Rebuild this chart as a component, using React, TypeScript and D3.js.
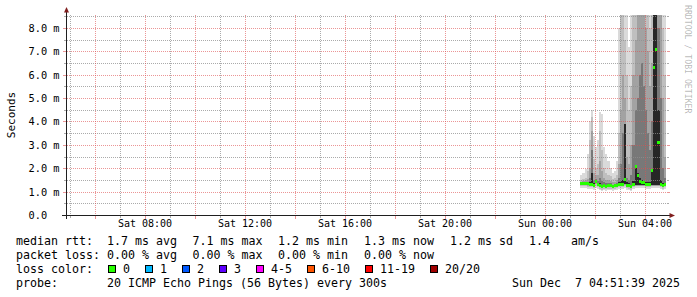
import React from "react";
import * as d3 from "d3";

const W = 697;
const H = 297;
const X0 = 66.5;
const X1 = 666.5;
const Y0 = 215;
const Y1 = 15;
const Y_MAX = 8.556;

const timeStart = new Date(2025, 11, 6, 4, 51, 39);
const timeEnd = new Date(2025, 11, 7, 4, 51, 39);
const firstStep = new Date(2025, 11, 7, 1, 25, 0);
const STEP_MIN = 5;

// median rtt per 5-minute step (ms)
const median = [1.35,1.35,1.35,1.33,1.30,1.30,1.28,1.42,1.30,1.25,1.20,1.25,1.22,1.25,1.25,1.22,1.25,1.28,1.30,1.30,1.32,1.50,1.28,1.25,1.20,1.30,2.07,1.67,1.45,1.38,1.38,1.32,1.32,1.30,1.90,6.30,7.10,3.10,1.30,1.25,1.30];

// smoke bands: upper edges (outer -> inner)
const hi1 = [1.70,1.80,1.95,2.60,4.00,4.50,3.40,2.90,3.20,4.40,4.30,2.90,2.60,2.30,2.00,1.80,1.90,2.30,8.00,8.60,8.60,8.60,8.60,7.20,8.60,8.60,8.60,8.60,8.60,8.60,8.60,8.60,8.60,8.60,8.60,8.60,8.60,8.60,8.60,8.60,8.60];
const hi2 = [1.50,1.55,1.60,1.90,3.20,4.20,2.40,2.00,2.20,3.60,2.80,2.00,1.80,1.70,1.65,1.55,1.60,1.70,3.50,8.60,8.60,7.50,6.00,4.50,5.50,8.60,8.60,8.60,8.60,8.60,8.60,8.60,8.60,8.00,8.60,8.60,8.60,8.60,8.60,8.00,6.00];
const hi3 = [1.42,1.45,1.48,1.55,2.00,3.60,1.80,1.70,1.70,2.30,1.90,1.60,1.50,1.50,1.45,1.40,1.42,1.50,2.20,4.50,6.00,5.00,2.50,2.20,3.00,6.00,7.50,8.60,8.60,8.60,8.60,8.00,7.00,5.50,6.50,8.60,8.60,8.60,8.60,5.00,2.50];
const hi4 = [1.38,1.40,1.40,1.42,1.60,2.80,1.50,1.55,1.45,1.60,1.45,1.40,1.35,1.38,1.35,1.30,1.33,1.38,1.60,2.20,3.50,3.90,1.60,1.50,1.70,3.00,4.50,5.00,6.00,6.50,5.50,4.50,3.50,2.80,4.00,8.60,8.60,8.00,5.00,2.00,1.60];
const hi5 = [1.37,1.37,1.37,1.36,1.40,1.80,1.35,1.48,1.35,1.35,1.28,1.30,1.27,1.30,1.30,1.26,1.28,1.31,1.40,1.45,1.50,3.90,1.40,1.35,1.30,1.45,2.10,1.80,1.60,1.50,1.45,1.40,1.40,1.40,1.95,8.60,8.60,4.50,1.50,1.35,1.35];
// smoke bands: lower edges (outer -> inner)
const lo1 = [1.15,1.15,1.15,1.13,1.10,1.10,1.08,1.15,1.10,1.06,1.02,1.06,1.04,1.06,1.06,1.04,1.06,1.08,1.10,1.10,1.12,1.15,1.08,1.06,1.02,1.10,1.15,1.15,1.15,1.15,1.15,1.12,1.12,1.10,1.15,1.15,1.15,1.15,1.10,1.06,1.10];
const lo2 = [1.23,1.23,1.23,1.21,1.18,1.18,1.16,1.25,1.18,1.13,1.09,1.13,1.11,1.13,1.13,1.11,1.13,1.16,1.18,1.18,1.20,1.24,1.16,1.13,1.09,1.18,1.22,1.22,1.22,1.22,1.22,1.20,1.20,1.18,1.22,1.22,1.22,1.22,1.18,1.13,1.18];
const lo3 = [1.28,1.28,1.28,1.26,1.23,1.23,1.21,1.32,1.23,1.18,1.14,1.18,1.16,1.18,1.18,1.16,1.18,1.21,1.23,1.23,1.25,1.30,1.21,1.18,1.14,1.23,1.26,1.26,1.26,1.26,1.26,1.25,1.25,1.23,1.26,1.26,1.26,1.26,1.23,1.18,1.23];
const lo4 = [1.31,1.31,1.31,1.29,1.26,1.26,1.24,1.37,1.26,1.21,1.17,1.21,1.19,1.21,1.21,1.19,1.21,1.24,1.26,1.26,1.28,1.32,1.24,1.21,1.17,1.26,1.28,1.28,1.28,1.29,1.29,1.28,1.28,1.26,1.28,1.28,1.28,1.28,1.26,1.21,1.26];
const lo5 = [1.33,1.33,1.33,1.31,1.28,1.28,1.26,1.40,1.28,1.23,1.19,1.23,1.20,1.23,1.23,1.20,1.23,1.26,1.28,1.28,1.30,1.32,1.26,1.23,1.19,1.28,1.30,1.30,1.30,1.30,1.30,1.30,1.30,1.28,1.30,1.30,1.30,1.30,1.28,1.23,1.28];

const bandColors = ["#dadada", "#bfbfbf", "#a2a2a2", "#787878", "#262626"];

const yTicksMinor = [0.5,1.5,2.5,3.5,4.5,5.5,6.5,7.5,8.5];
const yTicksMajor = [1,2,3,4,5,6,7,8];
const yTickLabels = ["1.0 m","2.0 m","3.0 m","4.0 m","5.0 m","6.0 m","7.0 m","8.0 m"];

const lossLabels = ["0","1","2","3","4-5","6-10","11-19","20/20"];
const lossColors = ["#26ff00","#00b8ff","#0059ff","#5e00ff","#ff00ff","#ff5500","#ff0000","#a00000"];

const statRow1 = ["1.7 ms avg","7.1 ms max","1.2 ms min","1.3 ms now","1.2 ms sd","1.4   am/s"];
const statRow2 = ["0.00 % avg","0.00 % max","0.00 % min","0.00 % now"];

const MONO = "'DejaVu Sans Mono', monospace";
const LFS = 11.63;

export default function App() {
  const x = d3.scaleTime().domain([timeStart, timeEnd]).range([X0, X1]);
  const y = d3.scaleLinear().domain([0, Y_MAX]).range([Y0, Y1]);
  const stepT = (k: number) => d3.timeMinute.offset(firstStep, k * STEP_MIN);

  const his = [hi1, hi2, hi3, hi4, hi5];
  const los = [lo1, lo2, lo3, lo4, lo5];

  const hoursMinor = d3.timeHour.every(1)!.range(timeStart, timeEnd);
  const hoursMajor = hoursMinor.filter((d) => d.getHours() % 2 === 0);
  const hoursLabel = hoursMinor.filter((d) => d.getHours() % 4 === 0);
  const fmt = d3.timeFormat("%a %H:%M");
  const px = (v: number) => Math.round(v) + 0.5;

  const legendX = [107, 192.5, 278, 364, 450, 529];
  const lossBoxX: number[] = [];
  {
    let bx = 108;
    lossLabels.forEach((l) => {
      lossBoxX.push(bx);
      bx += 30 + 7 * l.length;
    });
  }

  const gridGray = { stroke: "#8f8f8f", strokeOpacity: 0.75 };
  const gridRed = { stroke: "#de5050", strokeOpacity: 0.6 };

  return (
    <svg width={W} height={H} style={{ display: "block", position: "absolute", left: 0, top: 0, background: "#fff" }}>
      <rect x={0} y={0} width={W} height={H} fill="#ffffff" />
      {/* smoke */}
      <g shapeRendering="crispEdges">
        {his.map((hiArr, b) => (
          <g key={b} fill={bandColors[b]}>
            {hiArr.map((hv, k) => {
              const xa = x(stepT(k));
              const xb = x(stepT(k + 1));
              const top = y(Math.min(hv, Y_MAX));
              const bot = y(los[b][k]);
              return <rect key={k} x={xa} y={top} width={xb - xa} height={Math.max(0, bot - top)} />;
            })}
          </g>
        ))}
      </g>
      {/* grid */}
      <g shapeRendering="crispEdges">
        {yTicksMinor.map((v) => (
          <g key={"ym" + v} {...gridGray}>
            <line x1={67} x2={666} y1={px(y(v))} y2={px(y(v))} strokeDasharray="1,1" />
            <line x1={64} x2={66} y1={px(y(v))} y2={px(y(v))} />
            <line x1={667} x2={669} y1={px(y(v))} y2={px(y(v))} />
          </g>
        ))}
        {yTicksMajor.map((v) => (
          <g key={"yM" + v} {...gridRed}>
            <line x1={67} x2={666} y1={px(y(v))} y2={px(y(v))} strokeDasharray="1,1" />
            <line x1={63} x2={66} y1={px(y(v))} y2={px(y(v))} />
            <line x1={667} x2={670} y1={px(y(v))} y2={px(y(v))} />
          </g>
        ))}
        {hoursMinor.filter((d) => d.getHours() % 2 !== 0).map((d) => (
          <g key={"xm" + d.getTime()} {...gridGray}>
            <line x1={px(x(d))} x2={px(x(d))} y1={Y1} y2={Y0} strokeDasharray="1,1" />
            <line x1={px(x(d))} x2={px(x(d))} y1={Y0 + 1} y2={Y0 + 3} />
          </g>
        ))}
        {hoursMajor.map((d) => (
          <g key={"xM" + d.getTime()} {...gridRed}>
            <line x1={px(x(d))} x2={px(x(d))} y1={Y1} y2={Y0} strokeDasharray="1,1" />
            <line x1={px(x(d))} x2={px(x(d))} y1={Y0 + 1} y2={Y0 + 4} />
          </g>
        ))}
      </g>
      {/* median */}
      <g shapeRendering="crispEdges" fill={lossColors[0]}>
        {median.map((m, k) => {
          const xa = x(stepT(k));
          const xb = x(stepT(k + 1));
          return <rect key={k} x={xa} y={y(m) - 1.5} width={xb - xa} height={3} />;
        })}
      </g>
      {/* axes */}
      <g shapeRendering="crispEdges">
        <line x1={62} x2={670} y1={Y0 + 0.5} y2={Y0 + 0.5} stroke="#1f1f1f" />
        <line x1={X0} x2={X0} y1={Y0 + 4} y2={11} stroke="#1f1f1f" />
      </g>
      <path d={`M64,12.5 L69,12.5 L66.5,7 Z`} fill="#801f1f" />
      <path d={`M669.5,213 L669.5,218 L675,215.5 Z`} fill="#801f1f" />
      {/* y labels */}
      <g fontFamily={MONO} fontSize={10.3} fill="#000">
        <text x={28.5} y={y(0) + 4}>0.0</text>
        {yTicksMajor.map((v, i) => (
          <text key={v} x={28.5} y={y(v) + 4}>{yTickLabels[i]}</text>
        ))}
      </g>
      <g fontFamily={MONO} fontSize={10} fill="#000">
        {hoursLabel.map((d) => (
          <text key={d.getTime()} x={x(d)} y={227} textAnchor="middle">{fmt(d)}</text>
        ))}
      </g>
      <text transform={`translate(14.5,${(Y0 + Y1) / 2}) rotate(-90)`} textAnchor="middle" fontFamily={MONO} fontSize={11} fill="#000">Seconds</text>
      <text transform="translate(685,5) rotate(90)" fontFamily={MONO} fontSize={8.2} fill="#000" fillOpacity={0.3}>RRDTOOL / TOBI OETIKER</text>
      {/* legend */}
      <g fontFamily={MONO} fontSize={LFS} fill="#000" style={{ whiteSpace: "pre" }}>
        <text x={16} y={245}>median rtt:</text>
        {statRow1.map((s, i) => (
          <text key={"r1" + i} x={legendX[i]} y={245} xmlSpace="preserve">{s}</text>
        ))}
        <text x={16} y={259}>packet loss:</text>
        {statRow2.map((s, i) => (
          <text key={"r2" + i} x={legendX[i]} y={259}>{s}</text>
        ))}
        <text x={16} y={273}>loss color:</text>
        {lossLabels.map((l, i) => (
          <g key={"lc" + i}>
            <rect x={lossBoxX[i] + 0.5} y={265.5} width={7} height={7} fill={lossColors[i]} stroke="#000" strokeWidth={1} />
            <text x={lossBoxX[i] + 15} y={273}>{l}</text>
          </g>
        ))}
        <text x={16} y={287}>probe:</text>
        <text x={107} y={287}>20 ICMP Echo Pings (56 Bytes) every 300s</text>
        <text x={680} y={287} textAnchor="end" xmlSpace="preserve">Sun Dec  7 04:51:39 2025</text>
      </g>
    </svg>
  );
}
